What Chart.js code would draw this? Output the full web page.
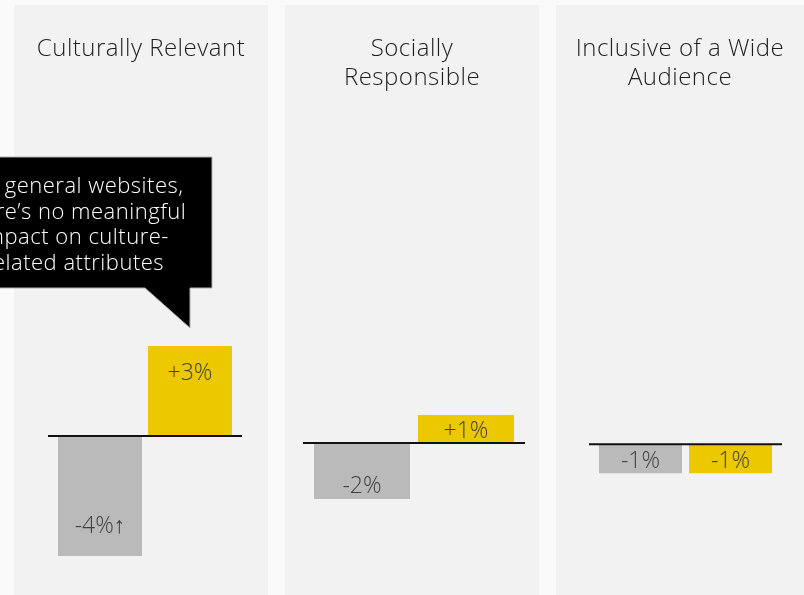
<!DOCTYPE html>
<html>
<head>
<meta charset="utf-8">
<script src="https://cdn.jsdelivr.net/npm/chart.js@4.4.0/dist/chart.umd.min.js"></script>
<style>
  body { margin: 0; width: 804px; height: 595px; background: #fafafa; overflow: hidden; position: relative; font-family: "Open Sans", sans-serif; font-weight: 300; }
  .panel { position: absolute; top: 5px; height: 590px; background: #f2f2f2; }
  .panel canvas { position: absolute; left: 0; top: 0; }
  .titulo { position: absolute; left: 0; right: 0; top: 27px; text-align: center; font-size: 24px; letter-spacing: 0.5px; line-height: 29px; color: #1e1e1e; }
  #globo { position: absolute; left: 0; top: 0; }
  #globo_txt { position: absolute; left: -56px; top: 172px; width: 260px; text-align: center; color: #fff; font-size: 22px; letter-spacing: 0.5px; line-height: 25.5px; white-space: nowrap; }
</style>
</head>
<body>

<div class="panel" id="p0" style="left:14px;width:254px"><canvas id="c0" width="254" height="590"></canvas><div class="titulo" id="t0"></div></div>
<div class="panel" id="p1" style="left:285px;width:254px"><canvas id="c1" width="254" height="590"></canvas><div class="titulo" id="t1"></div></div>
<div class="panel" id="p2" style="left:556px;width:248px"><canvas id="c2" width="248" height="590"></canvas><div class="titulo" id="t2"></div></div>

<svg id="globo" width="260" height="340">
  <polygon points="-5,157 212,157 212,288 190,288 190,328 145,288 -5,288" fill="#000" stroke="#b0b0b0" stroke-width="1"/>
</svg>
<div id="globo_txt">For general websites,<br>there’s no meaningful<br>impact on culture-<br>related attributes</div>

<script>
// datos
const categorias = [["Culturally Relevant"], ["Socially", "Responsible"], ["Inclusive of a Wide", "Audience"]]
const valoresGris = [-4, -2, -1]
const valoresAmarillo = [3, 1, -1]
const etiquetasGris = ["-4%↑", "-2%", "-1%"]
const etiquetasAmarillo = ["+3%", "+1%", "-1%"]

const colorGris = "#bababa"
const colorAmarillo = "#ebc800"

// rango del eje y, margenes y ancho de barra de cada panel
const rangos = [
    { min: -5.3, max: 14.37, left: 41, right: 33, bar: 0.933, ext: 7 },
    { min: -5.43, max: 15.64, left: 25, right: 21, bar: 0.923, ext: 7 },
    { min: -5.2, max: 15.14, left: 39.5, right: 28.5, bar: 0.922, ext: 6.5 }
]

const lineaCero = {
    id: "lineaCero",
    afterDatasetsDraw(chart) {
        const ctx = chart.ctx
        const ext = chart.options.plugins.lineaCero.ext
        const y = chart.scales.y.getPixelForValue(0)
        ctx.save()
        ctx.strokeStyle = "#111"
        ctx.lineWidth = 2
        ctx.beginPath()
        ctx.moveTo(chart.chartArea.left - ext, y)
        ctx.lineTo(chart.chartArea.right + ext, y)
        ctx.stroke()
        ctx.restore()
    }
}

const etiquetas = {
    id: "etiquetas",
    afterDatasetsDraw(chart) {
        const ctx = chart.ctx
        const textos = chart.options.plugins.etiquetas.textos
        ctx.save()
        ctx.font = '300 23px "Open Sans"'
        ctx.fillStyle = "#404040"
        ctx.textAlign = "center"
        ctx.textBaseline = "middle"
        chart.getDatasetMeta(0).data.forEach((barra, i) => {
            let h = Math.abs(barra.base - barra.y)
            let dir = barra.y < barra.base ? 1 : -1
            let y = h < 40 ? (barra.y + barra.base) / 2 : barra.y + dir * 0.27 * h
            ctx.fillText(textos[i], barra.x, y + 3)
        })
        ctx.restore()
    }
}

for (let i = 0; i < categorias.length; i++) {
    document.getElementById("t" + i).innerHTML = categorias[i].join("<br>")
    let r = rangos[i]
    new Chart(document.getElementById("c" + i), {
        type: "bar",
        data: {
            labels: ["a", "b"],
            datasets: [{
                data: [valoresGris[i], valoresAmarillo[i]],
                backgroundColor: [colorGris, colorAmarillo],
                categoryPercentage: 1,
                barPercentage: r.bar
            }]
        },
        options: {
            responsive: false,
            animation: false,
            layout: { padding: { left: r.left, right: r.right, top: 0, bottom: 0 } },
            scales: {
                x: { display: false },
                y: { display: false, min: r.min, max: r.max }
            },
            plugins: {
                legend: { display: false },
                tooltip: { enabled: false },
                lineaCero: { ext: r.ext },
                etiquetas: { textos: [etiquetasGris[i], etiquetasAmarillo[i]] }
            }
        },
        plugins: [lineaCero, etiquetas]
    })
}
</script>
</body>
</html>
